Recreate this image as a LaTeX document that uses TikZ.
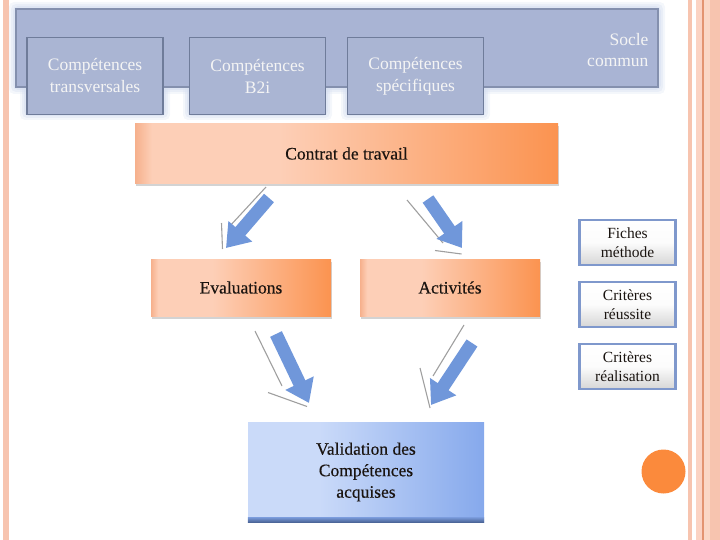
\documentclass[tikz,border=0pt]{standalone}
\usepackage{fontspec}
\setmainfont{Liberation Serif}
\newfontfamily\tnr{Liberation Serif}
\newfontfamily\tnrd[FakeBold=0.35]{Liberation Serif}
\usetikzlibrary{arrows.meta,shadows}
\definecolor{stripe}{HTML}{F7C4AF}
\definecolor{stripelt}{HTML}{FBD3C3}
\definecolor{stripedk}{HTML}{E39470}
\definecolor{bigblue}{HTML}{A9B4D4}
\definecolor{bigborder}{HTML}{8490AE}
\definecolor{innerblue}{HTML}{AAB5D3}
\definecolor{innerborder}{HTML}{6F7C9A}
\definecolor{halo}{HTML}{D5DEF0}
\definecolor{oEdge}{HTML}{F6B08C}
\definecolor{oLight}{HTML}{FDCFB7}
\definecolor{oRight}{HTML}{FB9350}
\definecolor{arrowblue}{HTML}{7097DA}
\definecolor{valLight}{HTML}{CADAF9}
\definecolor{valRight}{HTML}{86A9EC}
\definecolor{valDark}{HTML}{4A6496}
\definecolor{rborder}{HTML}{7F98CC}
\definecolor{rbottom}{HTML}{D6D6D6}
\definecolor{dot}{HTML}{FB8A3C}
\definecolor{toptext}{HTML}{F4F4F4}
\definecolor{darktext}{HTML}{1A1410}
\pgfdeclarehorizontalshading{orangeA}{100bp}{color(0bp)=(oEdge); color(25bp)=(oEdge); color(27bp)=(oLight); color(42bp)=(oLight); color(75bp)=(oRight); color(100bp)=(oRight)}
\pgfdeclarehorizontalshading{blueA}{100bp}{color(0bp)=(valLight); color(25bp)=(valLight); color(40bp)=(valLight); color(75bp)=(valRight); color(100bp)=(valRight)}
\tikzset{
  toptxt/.style={font=\tnr\fontsize{17.5}{22}\selectfont},
  dark/.style={font=\tnrd\fontsize{17.5}{22}\selectfont, text=darktext},
  innerbox/.style={toptxt, draw=innerborder, line width=1.5pt, fill=innerblue, text=toptext,
    minimum width=136pt, minimum height=77pt, inner sep=0pt, align=center},
  orangebox/.style={dark, shading=orangeA, draw=none, inner sep=0pt, align=center,
    drop shadow={shadow xshift=1pt, shadow yshift=-3pt, opacity=0.35}},
  sidebox/.style={font=\tnr\fontsize{15.5}{19.5}\selectfont, text=darktext, draw=rborder, line width=2.5pt,
    top color=white, bottom color=rbottom, middle color=white!92!rbottom,
    minimum width=96pt, minimum height=45pt, inner sep=0pt, align=center},
  fatarrow/.style={line width=13pt, arrowblue, -{Triangle[length=22pt,width=30pt]}},
  shadowline/.style={line width=1.1pt, gray!75},
}
\begin{document}
\begin{tikzpicture}[x=1pt,y=-1pt]
\useasboundingbox (0,0) rectangle (720,540);
% page decoration
\fill[stripe] (3,0) rectangle (9,540);
\fill[stripe] (688,0) rectangle (692,540);
\fill[stripelt] (696,0) rectangle (702,540);
\fill[stripedk] (702,0) rectangle (703.5,540);
\fill[stripe!90!orange!60] (703.5,0) rectangle (710,540);
\fill[stripe] (710,0) rectangle (720,540);
% top halo
\foreach \d/\o in {7/0.25,5/0.35,3/0.5}{
  \fill[halo, opacity=\o, rounded corners=5pt] (16-\d,9-\d) rectangle (658+\d,87+\d);
  \foreach \l/\r in {27/163,190/325,348/483}{
    \fill[halo, opacity=\o, rounded corners=5pt] (\l-\d,80) rectangle (\r+\d,113+\d);
  }
}
\node[draw=bigborder, line width=1.2pt, fill=bigblue, minimum width=642pt, minimum height=78pt, inner sep=0pt] (socle) at (337,48) {};
\node[text=toptext, align=right, anchor=east, font=\tnr\fontsize{17.5}{20.5}\selectfont] (soclet) at (652,50) {Socle\\commun};
\node[innerbox] (ct) at (95,76) {Compétences\\transversales};
\node[innerbox] (cb) at (257.5,76) {Compétences\\B2i};
\node[innerbox] (cs) at (415.5,76) {Compétences\\spécifiques};
% orange boxes
\node[orangebox, minimum width=423pt, minimum height=60pt] (contrat) at (346.5,153.5) {Contrat de travail};
\node[orangebox, minimum width=180pt, minimum height=57pt] (eval) at (241,287.5) {Evaluations};
\node[orangebox, minimum width=180pt, minimum height=57pt] (act) at (450,287.5) {Activités};
% validation
\node[dark, shading=blueA, inner sep=0pt, align=center, minimum width=236pt, minimum height=100pt,
  font=\tnrd\fontsize{17.5}{21.5}\selectfont] (val) at (366,472) {Validation des\\Compétences\\acquises};
\shade[top color=valRight!80!valDark, bottom color=valDark] ([yshift=5pt]val.south west) rectangle (val.south east);
% side boxes
\node[sidebox] (fiches) at (627.5,242.5) {Fiches\\méthode};
\node[sidebox] (reussite) at (627.5,304.5) {Critères\\réussite};
\node[sidebox] (realis) at (627.5,366.5) {Critères\\réalisation};
% circle
\node[circle, fill=dot, minimum size=44pt, inner sep=0pt] (dotc) at (663.5,471.5) {};
% arrows
\coordinate (a1s) at (269,198); \coordinate (a1e) at (226,248);
\coordinate (a2s) at (428,199); \coordinate (a2e) at (462,248);
\coordinate (a3s) at (276,334); \coordinate (a3e) at (309,403);
\coordinate (a4s) at (472,343); \coordinate (a4e) at (431,405);
\coordinate (l1a) at (266,187); \coordinate (l1b) at (229,227);
\coordinate (l1c) at (221.5,223); \coordinate (l1d) at (222.5,249);
\coordinate (l2a) at (407,200); \coordinate (l2b) at (443,243);
\coordinate (l2c) at (435,250.5); \coordinate (l2d) at (461.5,254);
\coordinate (l3a) at (255,331); \coordinate (l3b) at (282,386);
\coordinate (l3c) at (268,392.5); \coordinate (l3d) at (307,406.5);
\coordinate (l4a) at (464,325); \coordinate (l4b) at (433,376);
\coordinate (l4c) at (420,368); \coordinate (l4d) at (430,408);
\foreach \a/\b in {l1a/l1b,l1c/l1d,l2a/l2b,l2c/l2d,l3a/l3b,l3c/l3d,l4a/l4b,l4c/l4d}{
  \draw[shadowline] (\a) -- (\b);
}
\draw[fatarrow] (a1s) -- (a1e);
\draw[fatarrow] (a2s) -- (a2e);
\draw[fatarrow] (a3s) -- (a3e);
\draw[fatarrow] (a4s) -- (a4e);
\end{tikzpicture}
\end{document}
